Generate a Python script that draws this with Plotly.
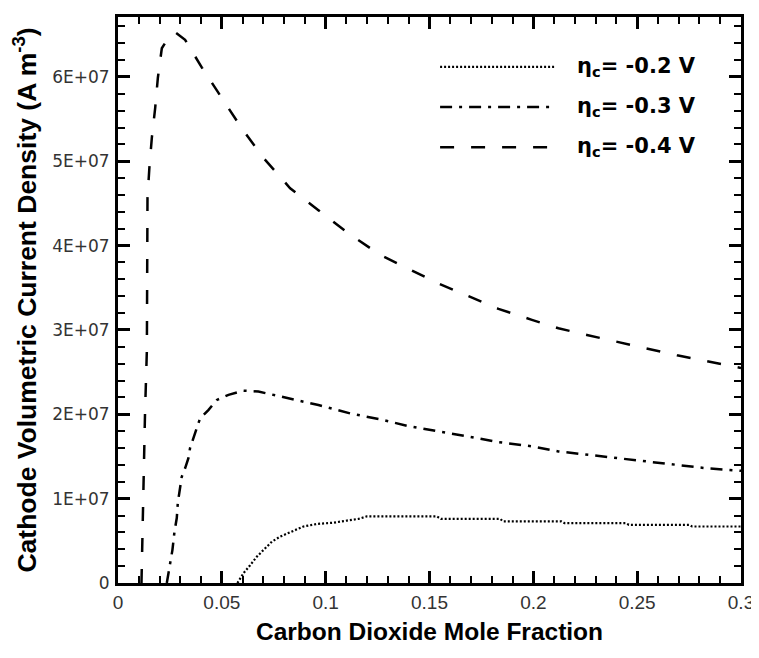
import plotly.graph_objects as go

# ---------------- data ----------------
x_02 = [0.0575, 0.0604, 0.0636, 0.0668, 0.0700, 0.0741, 0.0781, 0.0829, 0.0893, 0.0958,
        0.1038, 0.1102, 0.1158, 0.1198, 0.1535, 0.1555, 0.1840, 0.1855, 0.2135, 0.2150,
        0.2445, 0.2460, 0.2750, 0.2765, 0.3000]
y_02 = [0.0, 0.115e7, 0.21e7, 0.31e7, 0.39e7, 0.49e7, 0.55e7, 0.60e7, 0.67e7, 0.70e7,
        0.715e7, 0.74e7, 0.76e7, 0.79e7, 0.79e7, 0.76e7, 0.76e7, 0.73e7, 0.73e7, 0.71e7,
        0.71e7, 0.69e7, 0.69e7, 0.67e7, 0.67e7]

x_03 = [0.0235, 0.0246, 0.0262, 0.0272, 0.0283, 0.0288, 0.0299, 0.0307, 0.0323, 0.0339,
        0.0347, 0.0363, 0.0376, 0.0395, 0.0435, 0.0476, 0.0532, 0.0604, 0.0676, 0.0821,
        0.0965, 0.1118, 0.1263, 0.1399, 0.1543, 0.1680, 0.1832, 0.1993, 0.2120, 0.2258,
        0.2403, 0.2540, 0.2683, 0.2836, 0.3000]
y_03 = [0.0, 0.17e7, 0.39e7, 0.61e7, 0.77e7, 0.95e7, 1.12e7, 1.26e7, 1.36e7, 1.48e7,
        1.60e7, 1.72e7, 1.82e7, 1.95e7, 2.05e7, 2.17e7, 2.23e7, 2.28e7, 2.27e7, 2.19e7,
        2.11e7, 2.01e7, 1.94e7, 1.86e7, 1.80e7, 1.74e7, 1.67e7, 1.62e7, 1.56e7, 1.52e7,
        1.48e7, 1.44e7, 1.40e7, 1.36e7, 1.33e7]

x_04 = [0.0113, 0.0122, 0.0130, 0.0139, 0.0142, 0.0151, 0.0163, 0.0179, 0.0192, 0.0211,
        0.0245, 0.0275, 0.0323, 0.0404, 0.0500, 0.0596, 0.0700, 0.0829, 0.0965, 0.1118,
        0.1263, 0.1404, 0.1543, 0.1688, 0.1832, 0.1993, 0.2121, 0.2258, 0.2403, 0.2547,
        0.2692, 0.2836, 0.3000]
y_04 = [0.0, 1.30e7, 2.00e7, 2.76e7, 4.56e7, 4.92e7, 5.28e7, 5.63e7, 5.99e7, 6.34e7,
        6.47e7, 6.53e7, 6.44e7, 6.11e7, 5.75e7, 5.39e7, 5.04e7, 4.68e7, 4.42e7, 4.13e7,
        3.89e7, 3.72e7, 3.55e7, 3.40e7, 3.25e7, 3.12e7, 3.02e7, 2.94e7, 2.86e7, 2.78e7,
        2.70e7, 2.63e7, 2.55e7]

series_labels = ["η<sub>c</sub>= -0.2 V", "η<sub>c</sub>= -0.3 V", "η<sub>c</sub>= -0.4 V"]

x_tickvals = [0, 0.05, 0.1, 0.15, 0.2, 0.25, 0.3]
x_ticktext = ["0", "0.05", "0.1", "0.15", "0.2", "0.25", "0.3"]
y_tickvals = [0, 1e7, 2e7, 3e7, 4e7, 5e7, 6e7]
y_ticktext = ["0", "1E+07", "2E+07", "3E+07", "4E+07", "5E+07", "6E+07"]

# ---------------- styles ----------------
dashes = ["2px,2px", "12px,7px,3px,7px", "14px,17px"]
widths = [2.2, 2.5, 2.5]

fig = go.Figure()
for xs, ys, name, d, w in zip([x_02, x_03, x_04], [y_02, y_03, y_04], series_labels, dashes, widths):
    fig.add_trace(go.Scatter(x=xs, y=ys, mode="lines", name=name, showlegend=False,
                             line=dict(color="black", width=w, dash=d)))

# manual legend (long line samples as in the reference)
rows = [0.912, 0.841, 0.770]
for yy, name, d, w in zip(rows, series_labels, dashes, widths):
    fig.add_shape(type="line", xref="paper", yref="paper", x0=0.517, x1=0.701, y0=yy, y1=yy,
                  line=dict(color="black", width=w, dash=d))
    fig.add_annotation(xref="paper", yref="paper", x=0.733, y=yy, xanchor="left", yanchor="middle",
                       text="<b>" + name + "</b>", showarrow=False,
                       font=dict(family="DejaVu Sans, Arial", size=21, color="black"))

axis_common = dict(showline=True, linecolor="black", linewidth=3, mirror="ticks",
                   ticks="inside", ticklen=12, tickwidth=2.5, tickcolor="black",
                   showgrid=False, zeroline=False, automargin=False)

fig.update_xaxes(range=[0, 0.3], tickvals=x_tickvals, ticktext=x_ticktext,
                 minor=dict(dtick=0.01, ticks="inside", ticklen=7, tickwidth=2, tickcolor="black"),
                 tickfont=dict(family="Liberation Sans, Arial", size=19, color="#333"),
                 title=dict(text="<b>Carbon Dioxide Mole Fraction</b>", standoff=12,
                            font=dict(family="Liberation Sans, Arial", size=24.5, color="black")),
                 ticklabelstandoff=0,
                 **axis_common)
fig.update_yaxes(range=[0, 6.71e7], tickvals=y_tickvals, ticktext=y_ticktext,
                 minor=dict(dtick=2e6, ticks="inside", ticklen=7, tickwidth=2, tickcolor="black"),
                 tickfont=dict(family="DejaVu Sans, Arial", size=17, color="#333"),
                 title=dict(text="<b>Cathode Volumetric Current Density (A m<sup>-3</sup>)</b>", standoff=10,
                            font=dict(family="Liberation Sans, Arial", size=26.5, color="black")),
                 ticklabelstandoff=2,
                 **axis_common)

# the page body has an 8px margin, so the figure is sized/positioned to compensate
fig.update_layout(template="none", width=751, height=642, plot_bgcolor="white", paper_bgcolor="white",
                  margin=dict(l=110, r=18, t=9, b=67), showlegend=False)

fig.write_html("out.html")
